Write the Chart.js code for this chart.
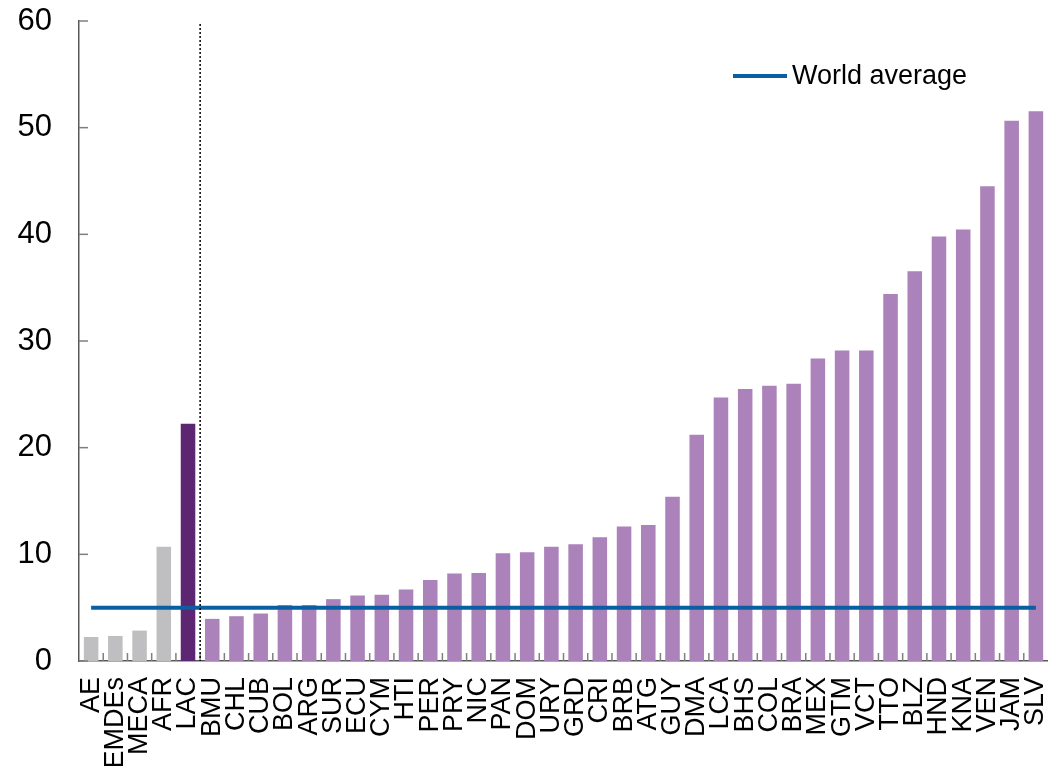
<!DOCTYPE html>
<html>
<head>
<meta charset="utf-8">
<script src="https://cdn.jsdelivr.net/npm/chart.js@4.4.1/dist/chart.umd.min.js"></script>
<style>
  body { margin: 0; background: #fff; }
  #wrap { position: relative; width: 1048px; height: 766px; }
  #legend {
    position: absolute; left: 733px; top: 60px;
    font: 27px "Liberation Sans", Arial, sans-serif; color: #000;
    display: flex; align-items: center;
  }
  #legend .swatch { display: inline-block; width: 54px; height: 4px; background: #0a5fa3; margin-right: 5px; }
</style>
</head>
<body>
<div id="wrap">
  <canvas id="chart"></canvas>
  <div id="legend"><span class="swatch"></span>World average</div>
</div>
<script>
const categories = [
  "AE", "EMDEs", "MECA", "AFR", "LAC",
  "BMU", "CHL", "CUB", "BOL", "ARG", "SUR", "ECU", "CYM", "HTI", "PER",
  "PRY", "NIC", "PAN", "DOM", "URY", "GRD", "CRI", "BRB", "ATG", "GUY",
  "DMA", "LCA", "BHS", "COL", "BRA", "MEX", "GTM", "VCT", "TTO", "BLZ",
  "HND", "KNA", "VEN", "JAM", "SLV",
];
const values = [
  2.25, 2.35, 2.85, 10.7, 22.25,
  3.95, 4.2, 4.45, 5.25, 5.25, 5.8, 6.15, 6.2, 6.7, 7.6,
  8.2, 8.25, 10.1, 10.2, 10.7, 10.95, 11.6, 12.6, 12.75, 15.4,
  21.2, 24.7, 25.5, 25.8, 26.0, 28.35, 29.1, 29.1, 34.4, 36.55,
  39.8, 40.45, 44.5, 50.65, 51.55,
];
const worldAverage = 5.0;
const yTicks = [0, 10, 20, 30, 40, 50, 60];

const FONT = '"Liberation Sans", Arial, sans-serif';

// short inward tick marks + dotted separator after the regional aggregates
const axisExtras = {
  id: "axisExtras",
  afterDatasetsDraw(chart) {
    const { ctx, chartArea, scales } = chart;
    const x = scales.x, y = scales.y;
    ctx.save();
    ctx.strokeStyle = "#7f7f7f";
    ctx.lineWidth = 1.5;
    yTicks.forEach((t) => {
      const py = y.getPixelForValue(t);
      ctx.beginPath();
      ctx.moveTo(chartArea.left, py);
      ctx.lineTo(chartArea.left + 9, py);
      ctx.stroke();
    });
    for (let i = 1; i < categories.length; i++) {
      const px = (x.getPixelForValue(i - 1) + x.getPixelForValue(i)) / 2;
      ctx.beginPath();
      ctx.moveTo(px, chartArea.bottom);
      ctx.lineTo(px, chartArea.bottom - 8);
      ctx.stroke();
    }
    // separator between LAC and BMU
    const sx = (x.getPixelForValue(4) + x.getPixelForValue(5)) / 2;
    ctx.strokeStyle = "#000";
    ctx.lineWidth = 1.5;
    ctx.setLineDash([2, 2]);
    ctx.beginPath();
    ctx.moveTo(sx, chartArea.top + 3);
    ctx.lineTo(sx, chartArea.bottom);
    ctx.stroke();
    ctx.restore();
  },
};

new Chart(document.getElementById("chart"), {
  type: "bar",
  data: {
    labels: categories,
    datasets: [
      {
        type: "line",
        label: "World average",
        data: categories.map(() => worldAverage),
        borderColor: "#0a5fa3",
        borderWidth: 4,
        pointRadius: 0,
        order: 0,
      },
      {
        label: "Share",
        data: values,
        backgroundColor: (c) =>
          c.dataIndex < 4 ? "#bfbfc1" : c.dataIndex === 4 ? "#5c2672" : "#ab82ba",
        barPercentage: 0.6,
        categoryPercentage: 1,
        order: 1,
      },
    ],
  },
  plugins: [axisExtras],
  options: {
    responsive: true,
    maintainAspectRatio: false,
    animation: false,
    layout: { padding: { left: 0, top: 21, right: 0, bottom: 0 } },
    plugins: {
      legend: { display: false },
      tooltip: { enabled: false },
    },
    scales: {
      x: {
        grid: { display: false, drawTicks: false },
        border: { display: true, color: "#595959", width: 1.5 },
        ticks: {
          color: "#000",
          font: { family: FONT, size: 27 },
          minRotation: 90,
          maxRotation: 90,
          autoSkip: false,
          padding: 16,
        },
        afterFit(scale) {
          scale.height = 105;
          scale.paddingLeft = 0;
          scale.paddingRight = 0;
        },
      },
      y: {
        min: 0,
        max: 60,
        grid: { display: false, drawTicks: false },
        border: { display: true, color: "#595959", width: 1.5 },
        ticks: {
          stepSize: 10,
          color: "#000",
          font: { family: FONT, size: 31 },
          padding: 27,
        },
        afterFit(scale) {
          scale.width = 79;
          scale.paddingTop = 0;
          scale.paddingBottom = 0;
        },
      },
    },
  },
});
</script>
</body>
</html>
